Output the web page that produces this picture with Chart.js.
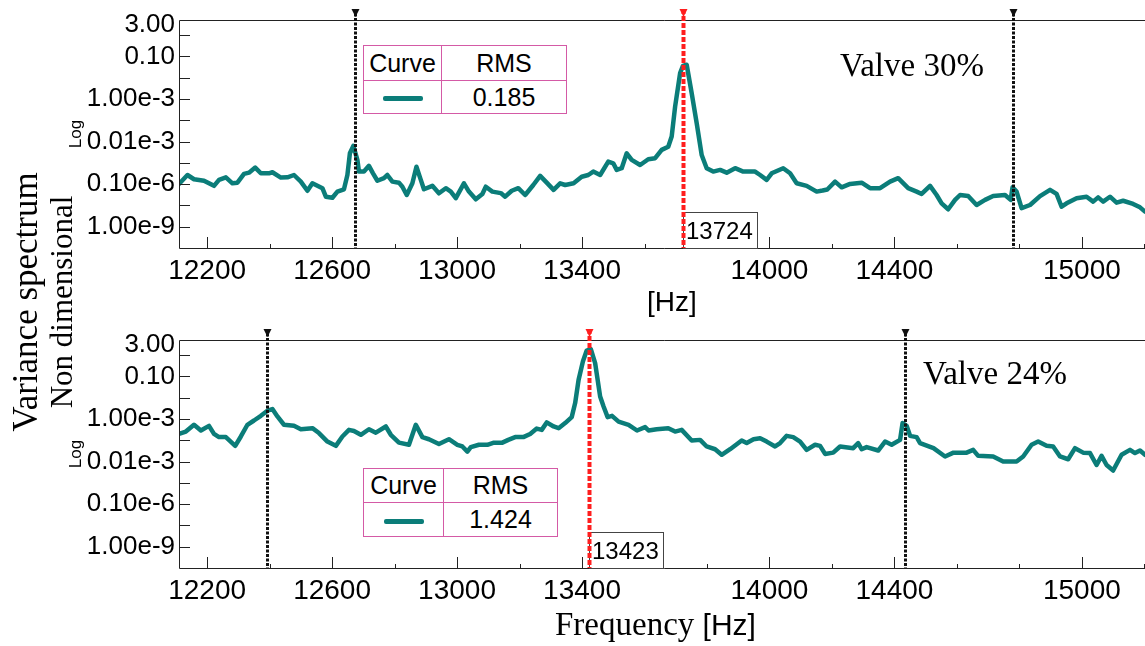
<!DOCTYPE html>
<html>
<head>
<meta charset="utf-8">
<script src="https://cdn.jsdelivr.net/npm/chart.js@4.4.1/dist/chart.umd.min.js"></script>
<style>
  html, body { margin: 0; padding: 0; background: #fff; overflow: hidden; }
  body { width: 1145px; height: 646px; position: relative; }
  canvas { position: absolute; left: 0; }
  #topChart { top: 0; }
  #bottomChart { top: 320px; }
  .serif { font-family: "Liberation Serif", "Times New Roman", serif; }
  .sans { font-family: "Liberation Sans", Arial, sans-serif; }
  .lbl { position: absolute; line-height: 1; white-space: nowrap; color: #000; }
  .rot { position: absolute; line-height: 1; white-space: nowrap; color: #000;
         transform: translate(-50%, -50%) rotate(-90deg); }
  table.legend { position: absolute; border-collapse: collapse; table-layout: fixed;
                 background: #fff; font-family: "Liberation Sans", Arial, sans-serif; font-size: 25px; }
  table.legend td { border: 1.5px solid #d45aa6; padding: 0; text-align: center; vertical-align: middle; }
  .swatch { display: inline-block; width: 40px; height: 5px; background: #0b7d79; border-radius: 2px; vertical-align: middle; }
</style>
</head>
<body>
<canvas id="topChart" width="1150" height="320"></canvas>
<canvas id="bottomChart" width="1150" height="326"></canvas>

<div class="rot serif" style="left:25px;top:302px;font-size:35px">Variance spectrum</div>
<div class="rot serif" style="left:61px;top:302px;font-size:31px">Non dimensional</div>
<div class="rot sans" style="left:75px;top:134px;font-size:17px">Log</div>
<div class="rot sans" style="left:75px;top:454px;font-size:17px">Log</div>

<div class="lbl serif" style="left:840px;top:49px;font-size:33px">Valve 30%</div>
<div class="lbl serif" style="left:923px;top:357px;font-size:33px">Valve 24%</div>
<div class="lbl sans" style="left:647px;top:288px;font-size:28px">[Hz]</div>
<div class="lbl serif" style="left:555px;top:608px;font-size:33px">Frequency <span class="sans" style="font-size:30px">[Hz]</span></div>

<table class="legend" style="left:363px;top:45px;width:203px">
  <colgroup><col style="width:78px"><col style="width:125px"></colgroup>
  <tr style="height:35px"><td>Curve</td><td>RMS</td></tr>
  <tr style="height:33px"><td><span class="swatch"></span></td><td>0.185</td></tr>
</table>
<table class="legend" style="left:363px;top:468px;width:194px">
  <colgroup><col style="width:80px"><col style="width:114px"></colgroup>
  <tr style="height:34px"><td>Curve</td><td>RMS</td></tr>
  <tr style="height:34px"><td><span class="swatch"></span></td><td>1.424</td></tr>
</table>

<script>
// frequency axis
const xMin = 12110;
const xMax = 15218;
const xLabelValues = [12200, 12600, 13000, 13400, 14000, 14400, 15000];
const xMinorStep = 200;

// level axis, in log10 units
const yMin = -10;
const yMax = 0.713;
const yLabelValues = [0.477, -1, -3, -5, -7, -9];
const yLabelTexts = ['3.00', '0.10', '1.00e-3', '0.01e-3', '0.10e-6', '1.00e-9'];
const yMarkValues = [0, -1, -2, -3, -4, -5, -6, -7, -8, -9];

// Valve 30% spectrum
const valve30Freq = [
  12110, 12137, 12158, 12190, 12222, 12238, 12260, 12281, 12297, 12318,
  12334, 12354, 12372, 12398, 12409, 12436, 12457, 12478, 12500, 12521,
  12537, 12569, 12580, 12601, 12617, 12638, 12649, 12657, 12668, 12681,
  12686, 12702, 12718, 12731, 12745, 12766, 12777, 12793, 12814, 12825,
  12839, 12857, 12870, 12884, 12894, 12921, 12942, 12964, 12980, 12996,
  13022, 13038, 13060, 13081, 13092, 13113, 13140, 13154, 13175, 13196,
  13218, 13244, 13266, 13287, 13309, 13330, 13346, 13373, 13399, 13420,
  13436, 13458, 13484, 13500, 13511, 13527, 13543, 13559, 13586, 13612,
  13634, 13655, 13676, 13687, 13698, 13714, 13723, 13735, 13751, 13767,
  13783, 13799, 13820, 13842, 13863, 13890, 13916, 13954, 13970, 13991,
  14007, 14044, 14066, 14087, 14119, 14151, 14170, 14185, 14210, 14231,
  14258, 14295, 14322, 14354, 14386, 14412, 14444, 14471, 14487, 14514,
  14535, 14551, 14572, 14594, 14610, 14636, 14663, 14690, 14716, 14754,
  14772, 14778, 14791, 14807, 14834, 14866, 14898, 14919, 14935, 14951,
  14983, 15015, 15036, 15052, 15068, 15090, 15111, 15132, 15164, 15186,
  15202
];
const valve30Level = [
  -6.99, -6.57, -6.77, -6.84, -7.08, -6.80, -6.68, -6.96, -6.93, -6.52,
  -6.46, -6.22, -6.49, -6.49, -6.44, -6.69, -6.68, -6.57, -6.88, -7.31,
  -6.96, -7.19, -7.59, -7.64, -7.35, -7.24, -6.57, -5.55, -5.20, -5.86,
  -6.41, -6.41, -6.14, -6.49, -6.84, -6.72, -6.57, -6.88, -6.93, -7.12,
  -7.51, -6.96, -6.18, -6.80, -7.24, -7.08, -7.43, -7.19, -7.35, -7.66,
  -6.96, -7.35, -7.71, -7.46, -7.12, -7.35, -7.42, -7.59, -7.31, -7.19,
  -7.51, -7.04, -6.61, -6.93, -7.27, -6.96, -7.04, -6.96, -6.65, -6.57,
  -6.41, -6.57, -5.94, -6.02, -6.33, -6.25, -5.55, -5.86, -6.10, -5.83,
  -5.78, -5.39, -5.24, -4.76, -3.35, -1.78, -1.44, -1.39, -2.72, -4.13,
  -5.63, -6.25, -6.41, -6.33, -6.46, -6.25, -6.41, -6.41, -6.57, -6.80,
  -6.49, -6.25, -6.49, -6.96, -7.08, -7.35, -7.30, -7.25, -6.88, -7.15,
  -6.99, -6.93, -7.19, -7.19, -6.88, -6.72, -7.19, -7.35, -7.46, -7.08,
  -7.51, -7.90, -8.18, -7.74, -7.51, -7.56, -7.98, -7.74, -7.56, -7.51,
  -7.74, -7.15, -7.35, -8.13, -7.98, -7.56, -7.27, -7.46, -8.06, -7.90,
  -7.66, -7.59, -7.82, -7.62, -7.82, -7.59, -7.87, -7.78, -7.93, -8.09,
  -8.29
];
const valve30Markers = [12673, 13724, 14779];
const valve30Peak = 13724;

// Valve 24% spectrum
const valve24Freq = [
  12110, 12132, 12158, 12180, 12206, 12222, 12238, 12260, 12290, 12308,
  12329, 12350, 12372, 12393, 12409, 12425, 12446, 12478, 12500, 12537,
  12558, 12585, 12612, 12633, 12654, 12670, 12692, 12718, 12740, 12772,
  12788, 12814, 12846, 12868, 12889, 12910, 12942, 12974, 13001, 13017,
  13033, 13044, 13070, 13097, 13118, 13145, 13164, 13186, 13212, 13234,
  13255, 13271, 13287, 13309, 13325, 13346, 13367, 13378, 13389, 13403,
  13415, 13428, 13442, 13458, 13469, 13482, 13496, 13517, 13549, 13576,
  13602, 13613, 13639, 13676, 13698, 13719, 13751, 13778, 13799, 13826,
  13847, 13874, 13911, 13927, 13949, 13970, 13991, 14018, 14034, 14055,
  14076, 14098, 14119, 14146, 14162, 14178, 14204, 14226, 14268, 14284,
  14295, 14311, 14348, 14370, 14391, 14418, 14426, 14439, 14450, 14471,
  14482, 14525, 14562, 14589, 14631, 14652, 14668, 14716, 14748, 14791,
  14812, 14839, 14860, 14887, 14908, 14930, 14956, 14978, 15004, 15026,
  15047, 15063, 15079, 15100, 15127, 15154, 15170, 15186, 15202
];
const valve24Level = [
  -3.70, -3.59, -3.27, -3.54, -3.32, -3.70, -3.85, -3.85, -4.26, -3.82,
  -3.27, -3.07, -2.85, -2.61, -2.53, -2.88, -3.27, -3.32, -3.48, -3.43,
  -3.66, -4.06, -4.26, -3.82, -3.51, -3.56, -3.74, -3.48, -3.64, -3.35,
  -3.74, -4.11, -4.21, -3.27, -3.85, -3.95, -4.17, -3.95, -4.21, -4.29,
  -4.53, -4.32, -4.21, -4.21, -4.11, -4.11, -3.98, -3.85, -3.85, -3.70,
  -3.45, -3.51, -3.16, -3.35, -3.43, -3.19, -2.91, -2.25, -1.16, -0.29,
  0.22, 0.29, -0.37, -1.94, -2.41, -2.91, -2.85, -3.12, -3.27, -3.54,
  -3.38, -3.54, -3.48, -3.43, -3.59, -3.51, -4.01, -3.98, -4.29, -4.42,
  -4.68, -4.42, -4.01, -4.13, -3.95, -3.90, -4.06, -4.29, -4.13, -3.79,
  -3.85, -4.06, -4.45, -4.21, -4.26, -4.64, -4.58, -4.29, -4.37, -4.13,
  -4.42, -4.32, -4.48, -4.06, -4.21, -3.98, -3.19, -3.32, -3.79, -3.85,
  -4.13, -4.37, -4.76, -4.58, -4.58, -4.45, -4.73, -4.76, -5.00, -5.00,
  -4.76, -4.21, -4.06, -4.26, -4.29, -4.76, -4.89, -4.37, -4.58, -4.60,
  -5.16, -4.73, -5.16, -5.42, -4.68, -4.45, -4.60, -4.48, -4.68
];
const valve24Markers = [12392, 13423, 14434];
const valve24Peak = 13423;

const curveColor = '#0b7d79';

// inward ticks, frame, cursor lines and the peak frequency box
const panelDecor = {
    id: 'panelDecor',
    afterDatasetsDraw(chart, args, opts) {
        const { ctx, chartArea: a, scales: { x, y } } = chart;
        ctx.save();

        ctx.strokeStyle = '#222';
        ctx.lineWidth = 1;
        ctx.beginPath();
        ctx.moveTo(a.right, a.top + 0.5);
        ctx.lineTo(a.left + 0.5, a.top + 0.5);
        ctx.lineTo(a.left + 0.5, a.bottom + 0.5);
        ctx.lineTo(a.right, a.bottom + 0.5);
        yMarkValues.forEach(v => {
            const py = Math.round(y.getPixelForValue(v)) + 0.5;
            ctx.moveTo(a.left, py);
            ctx.lineTo(a.left + 11, py);
        });
        for (let f = 12200; f <= xMax; f += xMinorStep) {
            const px = Math.round(x.getPixelForValue(f)) + 0.5;
            const len = xLabelValues.includes(f) ? 11 : 4;
            ctx.moveTo(px, a.bottom);
            ctx.lineTo(px, a.bottom - len);
        }
        ctx.stroke();

        // peak frequency box
        const bx = Math.round(x.getPixelForValue(opts.peak));
        ctx.fillStyle = '#fff';
        ctx.fillRect(bx, a.bottom - 36, 74, 36);
        ctx.strokeStyle = '#444';
        ctx.strokeRect(bx + 0.5, a.bottom - 35.5, 74, 36);
        ctx.fillStyle = '#000';
        ctx.font = '24px "Liberation Sans", Arial, sans-serif';
        ctx.textBaseline = 'alphabetic';
        ctx.textAlign = 'left';
        ctx.fillText(String(opts.peak), bx + 3, a.bottom - 9);

        // cursor lines
        opts.markers.forEach(f => {
            const px = Math.round(x.getPixelForValue(f)) + 0.5;
            const isPeak = f === opts.peak;
            const col = isPeak ? '#ff1e1e' : '#111';
            ctx.strokeStyle = col;
            ctx.lineWidth = isPeak ? 4 : 3;
            ctx.setLineDash(isPeak ? [5, 2] : [3, 1.5]);
            ctx.beginPath();
            ctx.moveTo(px, a.top - 11);
            ctx.lineTo(px, a.bottom);
            ctx.stroke();
            ctx.setLineDash([]);
            ctx.fillStyle = col;
            ctx.beginPath();
            ctx.moveTo(px - 4, a.top - 11);
            ctx.lineTo(px + 4, a.top - 11);
            ctx.lineTo(px, a.top - 3);
            ctx.closePath();
            ctx.fill();
        });
        ctx.restore();
    }
};

const makePanel = (canvasId, label, freq, level, markers, peak, axisHeight) => {
    const ctx = document.getElementById(canvasId);
    return new Chart(ctx, {
        type: 'line',
        data: {
            datasets: [{
                label: label,
                data: freq.map((f, i) => ({ x: f, y: level[i] })),
                borderColor: curveColor,
                borderWidth: 4.5,
                borderJoinStyle: 'round',
                borderCapStyle: 'round',
                pointRadius: 0,
                tension: 0,
                fill: false
            }]
        },
        options: {
            responsive: false,
            animation: false,
            events: [],
            layout: { padding: { top: 20, left: 0, right: 0, bottom: 0 } },
            plugins: {
                legend: { display: false },
                tooltip: { enabled: false },
                panelDecor: { markers: markers, peak: peak }
            },
            scales: {
                x: {
                    type: 'linear',
                    min: xMin,
                    max: xMax,
                    grid: { display: false, drawTicks: false },
                    border: { display: false },
                    afterBuildTicks: s => { s.ticks = xLabelValues.map(v => ({ value: v })); },
                    afterFit: s => { s.height = axisHeight; },
                    ticks: {
                        autoSkip: false,
                        maxRotation: 0,
                        padding: 6,
                        color: '#000',
                        font: { family: '"Liberation Sans", Arial, sans-serif', size: 28 },
                        callback: v => String(v)
                    }
                },
                y: {
                    type: 'linear',
                    min: yMin,
                    max: yMax,
                    grid: { display: false, drawTicks: false },
                    border: { display: false },
                    afterBuildTicks: s => { s.ticks = yLabelValues.map(v => ({ value: v })); },
                    afterFit: s => { s.width = 179; },
                    ticks: {
                        autoSkip: false,
                        padding: 4,
                        color: '#000',
                        font: { family: '"Liberation Sans", Arial, sans-serif', size: 26 },
                        callback: v => yLabelTexts[yLabelValues.indexOf(v)]
                    }
                }
            }
        },
        plugins: [panelDecor]
    });
};

makePanel('topChart', 'Valve 30%', valve30Freq, valve30Level, valve30Markers, valve30Peak, 72);
makePanel('bottomChart', 'Valve 24%', valve24Freq, valve24Level, valve24Markers, valve24Peak, 78);
</script>
</body>
</html>
